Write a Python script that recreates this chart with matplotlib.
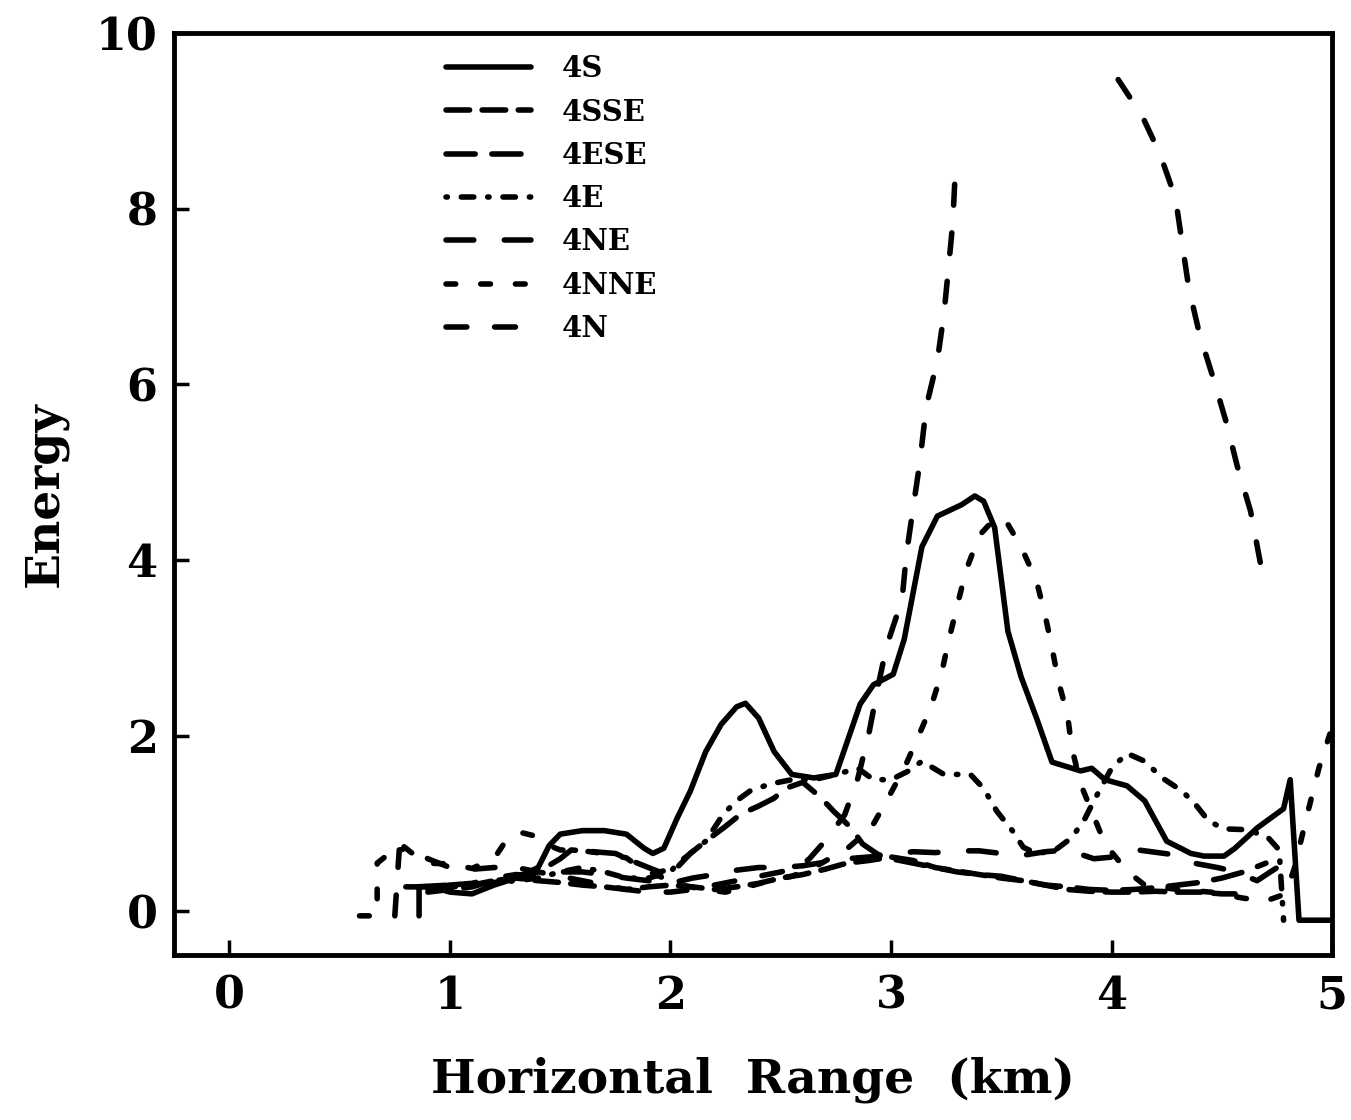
import numpy as np
import matplotlib
matplotlib.use("Agg")
import matplotlib.pyplot as plt

nan = np.nan

# ---- data ----
x_4S = [0.80, 0.92, 1.00, 1.10, 1.20, 1.30, 1.40, 1.45, 1.50, 1.60, 1.70, 1.80, 1.88, 1.92,
        1.97, 2.03, 2.09, 2.16, 2.23, 2.30, 2.34, 2.40, 2.47, 2.55, 2.65, 2.75, 2.79, 2.86,
        2.92, 3.01, 3.06, 3.14, 3.21, 3.32, 3.38, 3.42, 3.47, 3.53, 3.59, 3.66, 3.73, 3.86,
        3.91, 3.97, 4.07, 4.15, 4.25, 4.36, 4.42, 4.51, 4.56, 4.66, 4.78, 4.81, 4.85, 5.00]
y_4S = [0.28, 0.28, 0.22, 0.20, 0.30, 0.38, 0.50, 0.75, 0.88, 0.92, 0.92, 0.88, 0.72, 0.66,
        0.72, 1.06, 1.37, 1.82, 2.13, 2.33, 2.37, 2.20, 1.82, 1.56, 1.52, 1.56, 1.85, 2.36,
        2.58, 2.70, 3.10, 4.15, 4.50, 4.63, 4.73, 4.67, 4.37, 3.19, 2.67, 2.20, 1.70, 1.60,
        1.63, 1.50, 1.43, 1.26, 0.80, 0.66, 0.63, 0.63, 0.72, 0.95, 1.17, 1.50, -0.10, -0.10]

x_4SSE = [0.90, 1.00, 1.10, 1.20, 1.30, 1.40, 1.50, 1.60, 1.70, 1.80, 1.90, 2.00, 2.10, 2.20,
          2.30, 2.40, 2.50, 2.60, 2.70, 2.80, 2.90, 3.00, 3.10, 3.20, 3.30, 3.40, 3.50, 3.60,
          3.70, 3.80, 3.90, 4.00, 4.10, 4.20, 4.30, 4.40, 4.50, 4.56]
y_4SSE = [0.22, 0.25, 0.28, 0.35, 0.38, 0.35, 0.33, 0.30, 0.28, 0.25, 0.28, 0.30, 0.28, 0.25,
          0.28, 0.32, 0.38, 0.42, 0.48, 0.55, 0.58, 0.62, 0.58, 0.50, 0.46, 0.42, 0.38, 0.35,
          0.30, 0.25, 0.23, 0.22, 0.22, 0.23, 0.22, 0.22, 0.20, 0.20]

x_4ESE = [0.85, 1.00, 1.10, 1.20, 1.30, 1.40, 1.50, 1.55, 1.65, 1.75, 1.85, 1.95, 2.03, 2.09,
          2.16, 2.24, 2.32, 2.40, 2.47, 2.52, 2.60, 2.68, 2.74, 2.82, 2.87, 2.94, 3.00, 3.10,
          3.20, 3.30, 3.40, 3.50, 3.60, 3.70, 3.80, 3.90, 4.00, 4.10, 4.20, 4.30, 4.40, 4.50,
          4.60, 4.70]
y_4ESE = [0.28, 0.30, 0.30, 0.35, 0.40, 0.45, 0.60, 0.70, 0.68, 0.66, 0.55, 0.45, 0.50, 0.66,
          0.80, 0.95, 1.11, 1.20, 1.29, 1.40, 1.47, 1.30, 1.14, 0.95, 0.77, 0.65, 0.60, 0.55,
          0.50, 0.45, 0.42, 0.40, 0.35, 0.30, 0.28, 0.25, 0.24, 0.25, 0.27, 0.30, 0.33, 0.38,
          0.45, 0.55]

x_4E = [0.90, 1.00, 1.10, 1.20, 1.30, 1.40, 1.50, 1.60, 1.70, 1.80, 1.90, 2.00, 2.03, 2.09,
        2.16, 2.24, 2.30, 2.36, 2.45, 2.55, 2.65, 2.75, 2.85, 2.92, 3.00, 3.08, 3.14, 3.24,
        3.36, 3.42, 3.48, 3.55, 3.60, 3.66, 3.74, 3.82, 3.88, 3.92, 4.00, 4.07, 4.15, 4.23,
        4.32, 4.38, 4.44, 4.51, 4.62, 4.71, 4.76, 4.78]
y_4E = [0.25, 0.28, 0.30, 0.33, 0.35, 0.38, 0.45, 0.50, 0.45, 0.38, 0.38, 0.45, 0.54, 0.66,
        0.80, 1.11, 1.26, 1.37, 1.45, 1.50, 1.50, 1.56, 1.63, 1.50, 1.50, 1.60, 1.71, 1.56,
        1.56, 1.40, 1.14, 0.92, 0.73, 0.66, 0.69, 0.84, 1.06, 1.26, 1.63, 1.80, 1.71, 1.52,
        1.37, 1.22, 1.03, 0.94, 0.93, 0.84, 0.70, -0.10]

x_4NE = [0.86, 0.86, 0.92, 1.00, 1.10, 1.20, 1.30, 1.40, 1.50, 1.60, 1.70, 1.80, 1.90, 2.00,
         2.10, 2.20, 2.30, 2.40, 2.50, 2.60, 2.70, 2.80, 2.90, 3.00, 3.10, 3.20, 3.30, 3.40,
         3.50, 3.60, 3.70, 3.80, 3.92, 4.05, 4.12, 4.27, 4.33, 4.48, 4.55, 4.66, 4.72, 4.82]
y_4NE = [-0.05, 0.28, 0.28, 0.30, 0.32, 0.38, 0.42, 0.40, 0.45, 0.45, 0.42, 0.38, 0.35, 0.32,
         0.38, 0.42, 0.47, 0.50, 0.50, 0.52, 0.56, 0.60, 0.62, 0.65, 0.68, 0.67, 0.69, 0.69,
         0.66, 0.64, 0.68, 0.70, 0.60, 0.63, 0.70, 0.65, 0.57, 0.50, 0.46, 0.35, 0.45, 0.61]

x_4NNE = [0.59, 0.67, 0.67, 0.72, 0.78, 0.85, 0.90, 1.00, 1.10, 1.20, 1.26, 1.32, 1.40, 1.45,
          1.50, 1.60, 1.70, 1.80, 1.86, 1.95, 2.05, 2.15, 2.25, 2.35, 2.45, 2.55, 2.65, 2.72,
          2.79, 2.91, 2.98, 3.06, 3.12, 3.18, 3.23, 3.26, 3.30, 3.34, 3.40, 3.47, 3.52, 3.59,
          3.66, 3.70, 3.73, 3.76, 3.80, 3.82, 3.86, 3.91, 3.97, 4.07, 4.15, 4.30, 4.45, 4.60,
          4.70, 4.79, 4.83, 4.88, 4.94, 4.99]
y_4NNE = [-0.05, -0.05, 0.55, 0.65, 0.76, 0.62, 0.55, 0.54, 0.49, 0.60, 0.83, 0.90, 0.85, 0.75,
          0.70, 0.69, 0.66, 0.61, 0.50, 0.40, 0.30, 0.25, 0.22, 0.28, 0.35, 0.40, 0.50, 0.60,
          0.69, 0.95, 1.26, 1.63, 1.97, 2.32, 2.72, 3.07, 3.48, 3.88, 4.28, 4.47, 4.45, 4.15,
          3.76, 3.36, 3.00, 2.61, 2.24, 1.86, 1.45, 1.14, 0.77, 0.46, 0.30, 0.25, 0.22, 0.15,
          0.12, 0.20, 0.50, 1.03, 1.63, 2.02]

x_4N = [0.75, 0.77, 0.82, 0.90, 1.00, 1.10, 1.20, 1.30, 1.40, 1.50, 1.60, 1.70, 1.80, 1.90,
        2.00, 2.10, 2.20, 2.30, 2.40, 2.50, 2.58, 2.63, 2.70, 2.79, 2.85, 2.90, 2.94, 2.98,
        3.05, 3.07, 3.10, 3.13, 3.16, 3.21, 3.24, 3.26, 3.28, 3.29, nan, 4.03, 4.14, 4.22,
        4.29, 4.32, 4.35, 4.40, 4.46, 4.52, 4.57, 4.63, 4.68]
y_4N = [-0.05, 0.70, 0.72, 0.60, 0.50, 0.48, 0.50, 0.50, 0.45, 0.40, 0.35, 0.30, 0.25, 0.22,
        0.22, 0.25, 0.30, 0.35, 0.40, 0.45, 0.50, 0.60, 0.80, 1.10, 1.52, 2.03, 2.55, 3.02,
        3.55, 4.07, 4.59, 5.10, 5.75, 6.27, 6.80, 7.31, 7.84, 8.35, nan, 9.47, 9.05, 8.62,
        8.12, 7.61, 7.10, 6.56, 6.08, 5.57, 5.07, 4.56, 3.90]

labels = ["4S", "4SSE", "4ESE", "4E", "4NE", "4NNE", "4N"]
x_ticks = [0, 1, 2, 3, 4, 5]
y_ticks = [0, 2, 4, 6, 8, 10]

# ---- style ----
plt.rcParams["font.family"] = ["DejaVu Serif"]
plt.rcParams["font.weight"] = "bold"
plt.rcParams["lines.scale_dashes"] = False

fig = plt.figure(figsize=(13.51, 11.2), dpi=100)
ax = fig.add_axes([0.129, 0.147, 0.857, 0.8235])

series = [(x_4S, y_4S), (x_4SSE, y_4SSE), (x_4ESE, y_4ESE), (x_4E, y_4E),
          (x_4NE, y_4NE), (x_4NNE, y_4NNE), (x_4N, y_4N)]
dash_styles = [None, (0, (17, 9)), (0, (21, 12)), (0, (1, 10, 9, 10)),
               (0, (20, 22)), (0, (7, 18)), (0, (15, 20))]

for (xs, ys), lab, ds in zip(series, labels, dash_styles):
    kw = dict(color="black", lw=4.0, label=lab, solid_capstyle="round",
              dash_capstyle="round", solid_joinstyle="round", dash_joinstyle="round")
    if ds is None:
        ax.plot(xs, ys, linestyle="-", **kw)
    else:
        ax.plot(xs, ys, linestyle=ds, **kw)

ax.set_xlim(-0.25, 5.0)
ax.set_ylim(-0.5, 10)
ax.set_xticks(x_ticks)
ax.set_yticks(y_ticks)
ax.tick_params(direction="in", length=11, width=2.5, labelsize=32,
               top=False, right=False)
ax.tick_params(axis="x", pad=14)
ax.tick_params(axis="y", pad=12)
for s in ax.spines.values():
    s.set_linewidth(3.5)

ax.set_xlabel("Horizontal  Range  (km)", fontsize=34, fontweight="bold", labelpad=28)
ax.set_ylabel("Energy", fontsize=34, fontweight="bold", labelpad=20)

leg = ax.legend(loc="upper left", bbox_to_anchor=(0.235, 0.977), frameon=False,
                prop={"size": 21, "weight": "bold"}, handlelength=2.9,
                handletextpad=1.05, labelspacing=0.49, borderpad=0, borderaxespad=0)

fig.savefig("out.png", dpi=100, facecolor="white")
